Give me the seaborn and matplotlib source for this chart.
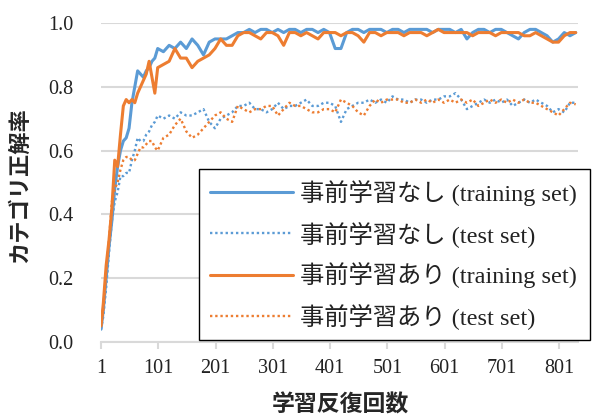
import numpy as np
import pandas as pd
import matplotlib
matplotlib.use("Agg")
import matplotlib.pyplot as plt
import seaborn as sns

iters = [1, 5, 10, 15, 20, 25, 30, 35, 40, 45, 50, 55, 60, 65, 70, 75, 80, 85, 90, 95, 100] + list(range(110, 831, 10))

no_pre_train = [0.04, 0.10, 0.20, 0.30, 0.38, 0.48, 0.55, 0.60, 0.63, 0.64, 0.67, 0.75, 0.80, 0.85, 0.84, 0.83, 0.85, 0.86, 0.88, 0.89, 0.92,
    0.91, 0.93, 0.92, 0.94, 0.92, 0.95, 0.93, 0.90, 0.94, 0.95, 0.95, 0.95, 0.96, 0.97, 0.97, 0.98, 0.97, 0.98, 0.98, 0.97,
    0.98, 0.97, 0.98, 0.98, 0.97, 0.98, 0.98, 0.97, 0.98, 0.97, 0.92, 0.92, 0.97, 0.98, 0.98, 0.97, 0.98, 0.98, 0.98, 0.97,
    0.98, 0.98, 0.97, 0.98, 0.98, 0.98, 0.98, 0.97, 0.98, 0.98, 0.98, 0.97, 0.98, 0.95, 0.97, 0.98, 0.98, 0.97, 0.98, 0.98,
    0.97, 0.96, 0.95, 0.97, 0.98, 0.98, 0.97, 0.96, 0.94, 0.95, 0.97, 0.96, 0.97]

no_pre_test = [0.04, 0.08, 0.17, 0.28, 0.38, 0.44, 0.47, 0.52, 0.52, 0.53, 0.53, 0.57, 0.60, 0.64, 0.63, 0.63, 0.65, 0.66, 0.68, 0.69, 0.71,
    0.70, 0.71, 0.70, 0.72, 0.71, 0.71, 0.72, 0.73, 0.69, 0.67, 0.70, 0.71, 0.72, 0.74, 0.74, 0.75, 0.73, 0.73, 0.72, 0.73,
    0.75, 0.73, 0.74, 0.74, 0.75, 0.76, 0.74, 0.74, 0.75, 0.75, 0.74, 0.69, 0.73, 0.74, 0.75, 0.75, 0.76, 0.75, 0.76, 0.75,
    0.77, 0.76, 0.76, 0.75, 0.76, 0.76, 0.75, 0.76, 0.76, 0.77, 0.77, 0.78, 0.76, 0.73, 0.74, 0.75, 0.76, 0.75, 0.76, 0.75,
    0.76, 0.74, 0.75, 0.76, 0.75, 0.76, 0.75, 0.74, 0.72, 0.73, 0.72, 0.75, 0.75]

pre_train = [0.05, 0.12, 0.24, 0.32, 0.42, 0.57, 0.55, 0.65, 0.74, 0.76, 0.75, 0.76, 0.75, 0.78, 0.80, 0.82, 0.84, 0.88, 0.83, 0.78, 0.86,
    0.87, 0.88, 0.92, 0.89, 0.89, 0.86, 0.88, 0.89, 0.90, 0.92, 0.95, 0.93, 0.93, 0.96, 0.97, 0.97, 0.96, 0.95, 0.97, 0.97,
    0.96, 0.93, 0.97, 0.97, 0.96, 0.97, 0.96, 0.95, 0.97, 0.97, 0.97, 0.96, 0.97, 0.97, 0.96, 0.94, 0.97, 0.97, 0.96, 0.97,
    0.97, 0.97, 0.96, 0.97, 0.97, 0.97, 0.96, 0.97, 0.98, 0.97, 0.97, 0.97, 0.97, 0.97, 0.96, 0.97, 0.97, 0.97, 0.96, 0.97,
    0.97, 0.97, 0.97, 0.96, 0.96, 0.97, 0.96, 0.95, 0.94, 0.94, 0.96, 0.97, 0.97]

pre_test = [0.05, 0.10, 0.22, 0.32, 0.44, 0.48, 0.50, 0.54, 0.57, 0.58, 0.58, 0.57, 0.57, 0.59, 0.61, 0.61, 0.62, 0.63, 0.63, 0.61, 0.60,
    0.64, 0.65, 0.68, 0.70, 0.66, 0.64, 0.65, 0.67, 0.69, 0.71, 0.72, 0.70, 0.69, 0.74, 0.73, 0.72, 0.73, 0.73, 0.74, 0.74,
    0.71, 0.73, 0.75, 0.74, 0.74, 0.73, 0.72, 0.72, 0.73, 0.73, 0.72, 0.76, 0.75, 0.74, 0.72, 0.71, 0.74, 0.76, 0.75, 0.76,
    0.76, 0.76, 0.75, 0.75, 0.76, 0.75, 0.76, 0.75, 0.76, 0.75, 0.76, 0.75, 0.76, 0.75, 0.76, 0.74, 0.75, 0.76, 0.75, 0.76,
    0.75, 0.76, 0.75, 0.76, 0.75, 0.75, 0.74, 0.73, 0.72, 0.71, 0.73, 0.75, 0.745]

labels = ["事前学習なし (training set)", "事前学習なし (test set)",
          "事前学習あり (training set)", "事前学習あり (test set)"]
x_ticks = [1, 101, 201, 301, 401, 501, 601, 701, 801]
y_ticks = [0.0, 0.2, 0.4, 0.6, 0.8, 1.0]

sns.set_theme(style="white")
serif = ["Liberation Serif", "Noto Sans CJK JP"]
plt.rcParams["font.family"] = serif

BLUE = "#5B9BD5"
ORANGE = "#ED7D31"

fig = plt.figure(figsize=(5.92, 4.20), dpi=100)
ax = fig.add_axes([101 / 592, 1 - 342 / 420, (578 - 101) / 592, (342 - 23) / 420])

series = [(no_pre_train, BLUE, "-", 2.2), (no_pre_test, BLUE, (0, (1, 1.2)), 1.7),
          (pre_train, ORANGE, "-", 2.2), (pre_test, ORANGE, (0, (1, 1.2)), 1.7)]
handles = []
for (vals, col, ls, lw), lab in zip(series, labels):
    df = pd.DataFrame({"iter": iters, "acc": vals})
    sns.lineplot(data=df, x="iter", y="acc", ax=ax, color=col, linewidth=lw,
                 linestyle=ls, label=lab, legend=False, zorder=3)
    handles.append(ax.lines[-1])

ax.set_xlim(1, 834)
ax.set_ylim(0, 1.0)
ax.set_xticks(x_ticks)
ax.set_xticklabels([str(t) for t in x_ticks])
ax.set_yticks(y_ticks)
ax.set_yticklabels([f"{t:.1f}" for t in y_ticks])
ax.yaxis.grid(True, color="#D9D9D9", linewidth=1.5)
ax.set_axisbelow(True)
for s in ["left", "right", "top"]:
    ax.spines[s].set_visible(False)
ax.spines["bottom"].set_color("#D9D9D9")
ax.spines["bottom"].set_linewidth(1.5)
ax.tick_params(axis="x", which="both", direction="out", length=5, width=1.5,
               color="#D9D9D9", labelsize=14.5, pad=7, bottom=True)
ax.tick_params(axis="y", length=0, labelsize=14.5, pad=20)
for t in ax.get_xticklabels() + ax.get_yticklabels():
    t.set_color("#222222")

ax.set_xlabel("")
ax.set_ylabel("")
fig.text(340 / 592, 1 - 405 / 420, "学習反復回数", ha="center", va="center",
         fontsize=16.5, fontweight="bold", family=["Noto Sans CJK JP", "DejaVu Sans"])
fig.text(20 / 592, 1 - 185 / 420, "カテゴリ正解率", ha="center", va="center", rotation=90,
         fontsize=16, fontweight="bold", family=["Noto Sans CJK JP", "DejaVu Sans"])

leg = ax.legend(handles, labels, loc="lower left",
                bbox_to_anchor=(199 / 592, 1 - 340 / 420, (590 - 199) / 592, (340 - 172) / 420),
                bbox_transform=fig.transFigure, mode="expand",
                fontsize=17.5, frameon=True, fancybox=False, handlelength=3.4,
                handletextpad=0.3, labelspacing=0.62, borderpad=0.45, borderaxespad=0)
leg.get_frame().set_edgecolor("black")
leg.get_frame().set_linewidth(1.0)
leg.get_frame().set_facecolor("white")
leg.get_frame().set_alpha(1)
for t in leg.get_texts():
    t.set_color("#222222")

fig.savefig("out.png", dpi=100)
